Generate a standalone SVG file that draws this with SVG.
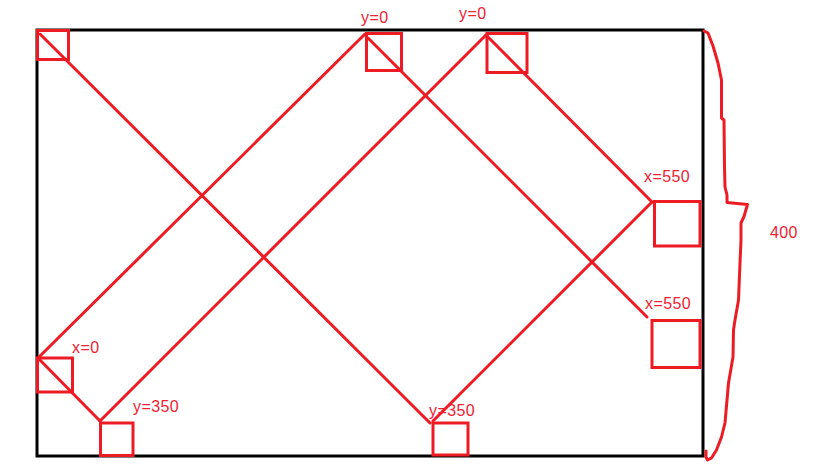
<svg xmlns="http://www.w3.org/2000/svg" width="831" height="472" viewBox="0 0 831 472">
<style>
.frame{fill:none;stroke:#000;stroke-width:3}
.box{fill:none;stroke:#ed1c24;stroke-width:3}
.con{fill:none;stroke:#ed1c24;stroke-width:3;stroke-linecap:round}
.brace{fill:none;stroke:#ed1c24;stroke-width:3;stroke-linejoin:round;stroke-linecap:round}
.lbl{font-family:"Liberation Sans",Arial,sans-serif;font-size:16px;fill:#ee2233;letter-spacing:0.4px}
</style>
<rect width="831" height="472" fill="#fff"/>
<rect class="frame" x="37" y="30" width="666" height="426"/>
<g id="connectors">
<line class="con" x1="40" y1="34" x2="430" y2="423"/>
<line class="con" x1="433" y1="421" x2="652" y2="202"/>
<line class="con" x1="652" y1="202" x2="486" y2="35"/>
<line class="con" x1="486" y1="35" x2="100" y2="421"/>
<line class="con" x1="100" y1="421" x2="38" y2="358"/>
<line class="con" x1="38" y1="358" x2="365" y2="34"/>
<line class="con" x1="368" y1="38" x2="647" y2="317"/>
</g>
<g id="box-topleft"><rect class="box" x="37.5" y="30.5" width="31" height="29"/></g>
<g id="box-top1"><rect class="box" x="366.5" y="33.5" width="35" height="37"/><text class="lbl" x="361" y="23">y=0</text></g>
<g id="box-top2"><rect class="box" x="487" y="33.5" width="40" height="39"/><text class="lbl" x="459" y="19">y=0</text></g>
<g id="box-right1"><rect class="box" x="654.5" y="201.5" width="45.5" height="44.5"/><text class="lbl" x="644" y="182">x=550</text></g>
<g id="box-right2"><rect class="box" x="652" y="320.5" width="48" height="47"/><text class="lbl" x="645" y="309">x=550</text></g>
<g id="box-left"><rect class="box" x="37.5" y="358" width="35" height="34"/><text class="lbl" x="72" y="353">x=0</text></g>
<g id="box-bottom1"><rect class="box" x="100.5" y="423" width="32.5" height="32.5"/><text class="lbl" x="133" y="412">y=350</text></g>
<g id="box-bottom2"><rect class="box" x="433" y="423" width="35" height="32"/><text class="lbl" x="429" y="416">y=350</text></g>
<g id="brace">
<path class="brace" d="M704,31 L708,33 L713,46 L718,63 L721.5,80 L721.5,118 L724,120 L724.5,167 L725,187 L727,195 L727,202.5 L747.5,204.5 L744,216.5 L741,223 L741,240 L740,263 L738.5,300 L735,320 L733.5,330 L733,357 L728.5,383 L725,423 L721.5,437 L716.5,450 L711.5,458 L707.5,460 L706,457 L706,451"/>
<text class="lbl" x="770" y="238">400</text>
</g>
</svg>
